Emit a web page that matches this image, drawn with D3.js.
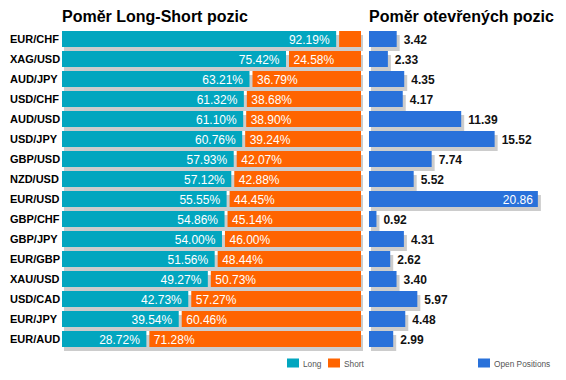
<!DOCTYPE html>
<html><head><meta charset="utf-8">
<script src="https://cdn.jsdelivr.net/npm/d3@7"></script>
<style>body{margin:0;background:#fff}svg{display:block;font-family:"Liberation Sans",Arial,sans-serif}</style>
</head><body><svg id="c" width="566" height="380"></svg>
<script>
const categories = ["EUR/CHF","XAG/USD","AUD/JPY","USD/CHF","AUD/USD","USD/JPY","GBP/USD","NZD/USD","EUR/USD","GBP/CHF","GBP/JPY","EUR/GBP","XAU/USD","USD/CAD","EUR/JPY","EUR/AUD"];
const longPct = [92.19,75.42,63.21,61.32,61.10,60.76,57.93,57.12,55.55,54.86,54.00,51.56,49.27,42.73,39.54,28.72];
const shortPct = [7.81,24.58,36.79,38.68,38.90,39.24,42.07,42.88,44.45,45.14,46.00,48.44,50.73,57.27,60.46,71.28];
const openPos = [3.42,2.33,4.35,4.17,11.39,15.52,7.74,5.52,20.86,0.92,4.31,2.62,3.40,5.97,4.48,2.99];
const titles = ["Poměr Long-Short pozic","Poměr otevřených pozic"];
const legendLabels = ["Long","Short","Open Positions"];

const C_LONG="#02A6BF", C_SHORT="#FF6400", C_OPEN="#2971DA", C_SH="#CCCCCC";
const svg = d3.select("#c");
const y = d3.scaleBand().domain(categories).range([29,349]).paddingInner(0.2).paddingOuter(0.1);
const xL = d3.scaleLinear().domain([0,100]).range([62,361]);
const xR = d3.scaleLinear().domain([0,21]).range([369,539]);
const bw = y.bandwidth();

// titles
svg.append("text").attr("x",62).attr("y",22).attr("font-size",16).attr("font-weight","bold").text(titles[0]);
svg.append("text").attr("x",369).attr("y",22).attr("font-size",16).attr("font-weight","bold").text(titles[1]);

// category labels
svg.selectAll(".cat").data(categories).join("text")
  .attr("x",10).attr("y",d=>y(d)+bw/2+4).attr("font-size",11).attr("font-weight","bold").text(d=>d);

const rows = categories.map((c,i)=>({c,l:longPct[i],s:shortPct[i],o:openPos[i]}));

// left shadows
svg.selectAll(".lsh").data(rows).join("rect")
  .attr("x",xL(0)+2).attr("y",d=>y(d.c)+4).attr("width",xL(100)-xL(0)).attr("height",bw).attr("fill",C_SH);
// long bars
svg.selectAll(".lb").data(rows).join("rect")
  .attr("x",xL(0)).attr("y",d=>y(d.c)).attr("width",d=>xL(d.l)-xL(0)-1.5).attr("height",bw).attr("fill",C_LONG);
// short bars
svg.selectAll(".sb").data(rows).join("rect")
  .attr("x",d=>xL(d.l)+1.5).attr("y",d=>y(d.c)).attr("width",d=>xL(100)-xL(d.l)-1.5).attr("height",bw).attr("fill",C_SHORT);
// long labels
svg.selectAll(".ll").data(rows).join("text")
  .attr("x",d=>xL(d.l)-8).attr("y",d=>y(d.c)+bw/2+4.5).attr("text-anchor","end")
  .attr("font-size",12).attr("fill","#fff").text(d=>d.l.toFixed(2)+"%");
// short labels
svg.selectAll(".sl").data(rows.filter(d=>xL(100)-xL(d.l)>45)).join("text")
  .attr("x",d=>xL(d.l)+6).attr("y",d=>y(d.c)+bw/2+4.5)
  .attr("font-size",12).attr("fill","#fff").text(d=>d.s.toFixed(2)+"%");

// right shadows
svg.selectAll(".rsh").data(rows).join("rect")
  .attr("x",xR(0)+2).attr("y",d=>y(d.c)+4).attr("width",d=>xR(d.o)-xR(0)+1).attr("height",bw).attr("fill",C_SH);
svg.selectAll(".rb").data(rows).join("rect")
  .attr("x",xR(0)).attr("y",d=>y(d.c)).attr("width",d=>xR(d.o)-xR(0)).attr("height",bw).attr("fill",C_OPEN);
svg.selectAll(".rl").data(rows).join("text")
  .each(function(d){
    const inside = xR(d.o)+45>566;
    d3.select(this)
      .attr("x", inside ? xR(d.o)-5 : xR(d.o)+7)
      .attr("text-anchor", inside ? "end" : "start")
      .attr("fill", inside ? "#fff" : "#111")
      .attr("font-weight", inside ? "normal" : "bold");
  })
  .attr("y",d=>y(d.c)+bw/2+4.5).attr("font-size",12).text(d=>d.o.toFixed(2));

// legend
const leg = [{x:287,c:C_LONG,t:legendLabels[0]},{x:328,c:C_SHORT,t:legendLabels[1]},{x:478,c:C_OPEN,t:legendLabels[2]}];
leg.forEach(L=>{
  svg.append("rect").attr("x",L.x).attr("y",358.5).attr("width",12).attr("height",9).attr("fill",L.c);
  svg.append("text").attr("x",L.x+16).attr("y",366.5).attr("font-size",8.3).attr("fill","#555").text(L.t);
});
</script></body></html>
